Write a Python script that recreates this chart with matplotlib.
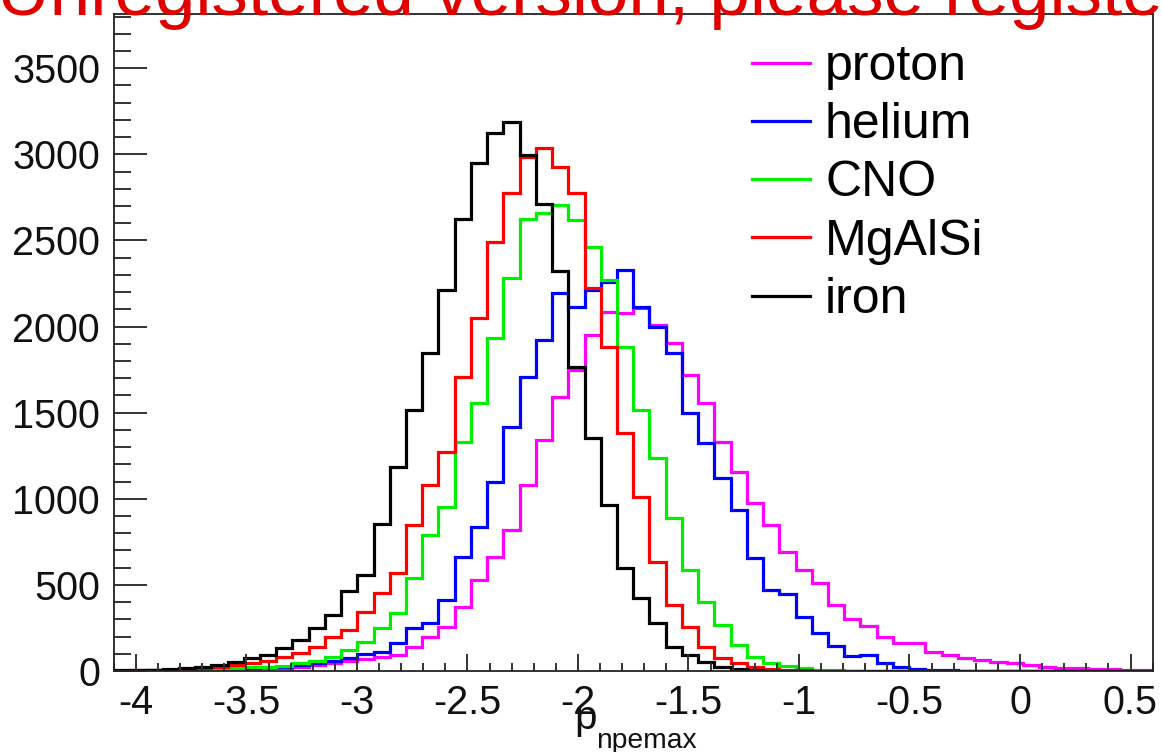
import numpy as np
import matplotlib
matplotlib.use("Agg")
import matplotlib.pyplot as plt
from matplotlib.ticker import MultipleLocator, FixedLocator
from matplotlib.lines import Line2D

plt.rcParams['font.family'] = ['Liberation Sans', 'DejaVu Sans']

# ---- data ----
x_min, x_max, n_bins = -4.1, 0.6, 64

proton = [1, 1, 2, 3, 4, 6, 8, 10, 13, 16,
          20, 25, 35, 45, 60, 70, 81, 93, 139, 197,
          256, 372, 528, 662, 819, 1080, 1341, 1591, 1748, 1951,
          2085, 2079, 2110, 2009, 1905, 1719, 1556, 1330, 1156, 976,
          848, 691, 586, 511, 385, 300, 262, 197, 163, 160,
          110, 93, 75, 64, 52, 46, 35, 25, 20, 15,
          12, 10, 8, 6]
helium = [1, 2, 3, 4, 6, 8, 12, 15, 18, 22,
          25, 35, 45, 60, 75, 100, 110, 163, 250, 279,
          412, 662, 836, 1097, 1417, 1707, 1922, 2195, 2114, 2212,
          2259, 2330, 2114, 1998, 1847, 1498, 1324, 1121, 935, 656,
          470, 450, 314, 221, 145, 87, 95, 48, 24, 12,
          6, 3, 1, 0, 0, 0, 0, 0, 0, 0,
          0, 0, 0, 0]
cno = [1, 2, 3, 5, 7, 10, 13, 17, 22, 26,
       30, 45, 60, 81, 122, 168, 250, 337, 540, 790,
       952, 1330, 1556, 1934, 2282, 2625, 2660, 2706, 2619, 2462,
       2270, 1882, 1516, 1237, 888, 586, 401, 267, 151, 81,
       46, 29, 15, 7, 3, 2, 1, 0, 0, 0,
       0, 0, 0, 0, 0, 0, 0, 0, 0, 0,
       0, 0, 0, 0]
mgalsi = [2, 3, 5, 8, 12, 18, 25, 35, 45, 60,
          81, 105, 139, 197, 238, 343, 453, 569, 848, 1080,
          1272, 1707, 2050, 2491, 2776, 2985, 3037, 2927, 2776, 2224,
          1882, 1382, 1010, 633, 383, 256, 139, 75, 46, 23,
          12, 6, 3, 2, 1, 0, 0, 0, 0, 0,
          0, 0, 0, 0, 0, 0, 0, 0, 0, 0,
          0, 0, 0, 0]
iron = [3, 5, 8, 12, 18, 25, 35, 50, 75, 93,
        134, 180, 250, 325, 465, 557, 854, 1185, 1516, 1847,
        2212, 2622, 2952, 3126, 3190, 2999, 2709, 2320, 1765, 1353,
        964, 598, 424, 279, 139, 93, 52, 23, 10, 5,
        2, 1, 0, 0, 0, 0, 0, 0, 0, 0,
        0, 0, 0, 0, 0, 0, 0, 0, 0, 0,
        0, 0, 0, 0]

series_names = ['proton', 'helium', 'CNO', 'MgAlSi', 'iron']
series_values = [proton, helium, cno, mgalsi, iron]
series_colors = ['#ff00ff', '#0000ff', '#00ee00', '#ff0000', '#000000']

x_ticks = [-4, -3.5, -3, -2.5, -2, -1.5, -1, -0.5, 0, 0.5]
x_ticklabels = ['-4', '-3.5', '-3', '-2.5', '-2', '-1.5', '-1', '-0.5', '0', '0.5']
y_ticks = [0, 500, 1000, 1500, 2000, 2500, 3000, 3500]
y_ticklabels = ['0', '500', '1000', '1500', '2000', '2500', '3000', '3500']
y_top = 3815

# ---- figure ----
W, H = 1162, 752
fig = plt.figure(figsize=(W / 100, H / 100), dpi=100)
fig.patch.set_facecolor('white')
left_px, right_px, top_px, bottom_px = 113.9, 1152.6, 14, 671
ax = fig.add_axes([left_px / W, 1 - bottom_px / H,
                   (right_px - left_px) / W, (bottom_px - top_px) / H])

edges = np.linspace(x_min, x_max, n_bins + 1)
for name, vals, col in zip(series_names, series_values, series_colors):
    ax.stairs(vals, edges, color=col, lw=2.3, label=name, baseline=None)

ax.set_xlim(x_min, x_max)
ax.set_ylim(0, y_top)

ax.xaxis.set_major_locator(FixedLocator(x_ticks))
ax.set_xticklabels(x_ticklabels)
ax.xaxis.set_minor_locator(MultipleLocator(0.1))
ax.yaxis.set_major_locator(FixedLocator(y_ticks))
ax.set_yticklabels(y_ticklabels)
ax.yaxis.set_minor_locator(MultipleLocator(100))

ax.tick_params(axis='both', which='both', direction='in', top=False, right=False,
               color='#333333', width=1.4, labelsize=28.5, labelcolor='#111111')
ax.tick_params(axis='y', which='major', length=24, pad=10)
ax.tick_params(axis='y', which='minor', length=12)
ax.tick_params(axis='x', which='major', length=12, pad=9)
ax.tick_params(axis='x', which='minor', length=6)
for sp in ax.spines.values():
    sp.set_linewidth(1.3)
    sp.set_color('#222222')

leg_handles = [Line2D([], [], color=c, lw=2.3) for c in series_colors]
ax.legend(leg_handles, series_names, loc='upper left',
          bbox_to_anchor=(752 / W, 1 - 44 / H), bbox_transform=fig.transFigure,
          frameon=False, fontsize=36, handlelength=1.16, handletextpad=0.3,
          borderpad=0, borderaxespad=0, labelspacing=0.245)

# axis title p_npemax (ROOT-style subscript drawn lower)
fig.text(574 / W, 1 - 729 / H, 'p', ha='left', va='baseline',
         fontsize=29, color='#111111')
fig.text(596 / W, 1 - 748 / H, 'npemax', ha='left', va='baseline',
         fontsize=20.3, color='#111111')

fig.text(-0.003, 1 - 15 / H, 'Unregistered version, please register',
         color='#e00000', fontsize=52.5, ha='left', va='baseline')

fig.savefig('out.png', dpi=100)
